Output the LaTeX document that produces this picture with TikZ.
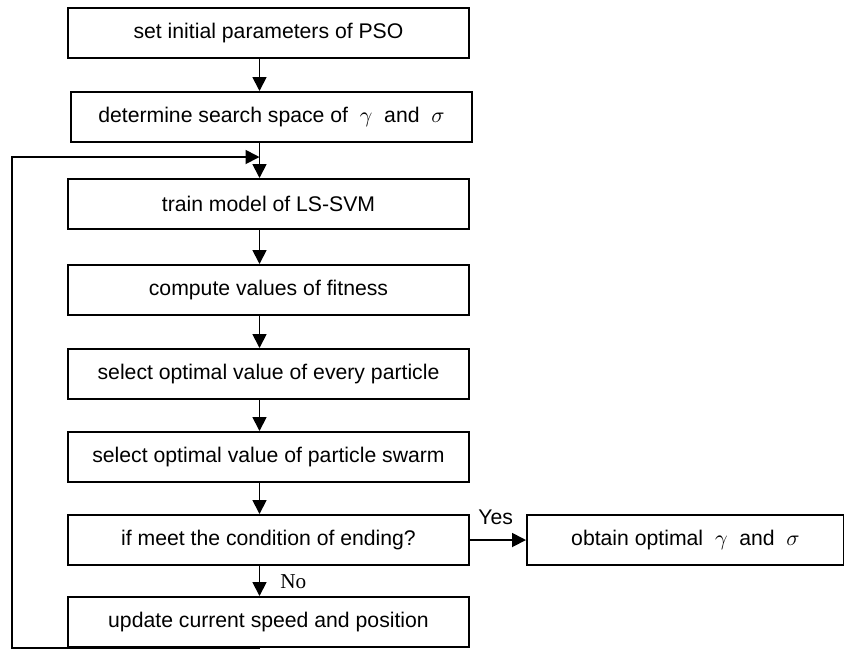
\documentclass[tikz,border=0pt]{standalone}
\usepackage{fontspec}
\setmainfont{Liberation Sans}
\newfontfamily\timesfont{Liberation Serif}
\usepackage{tikz}
\usetikzlibrary{arrows.meta,positioning}

\begin{document}
\begin{tikzpicture}[
    node distance=16pt,
    block/.style={draw, line width=1pt, minimum width=200.5pt, minimum height=25pt, inner sep=2pt, align=center, font=\fontsize{10.6}{12}\selectfont},
    arrow/.style={-{Triangle[length=7pt,width=7pt]}, line width=0.9pt},
    lbl/.style={anchor=base west, inner sep=0pt, font=\fontsize{10.6}{12}\selectfont}
]
    \useasboundingbox (0,0) rectangle (422pt,-325pt);

    % Inicio
    \node[block] (init) at (134.25pt,-16.5pt) {set initial parameters of PSO};
    \node[block, below=16pt of init, xshift=1.5pt] (space) {determine search space of\ \ $\gamma$\ \ and\ \ $\sigma$};

    % Bucle principal
    \node[block, below=17.5pt of space, xshift=-1.5pt] (train) {train model of LS-SVM};
    \node[block, below=17pt of train] (fitness) {compute values of fitness};
    \node[block, below=16pt of fitness] (pbest) {select optimal value of every particle};
    \node[block, below=15.5pt of pbest] (gbest) {select optimal value of particle swarm};
    \node[block, below=15.5pt of gbest] (cond) {if meet the condition of ending?};
    \node[block, below=15pt of cond] (update) {update current speed and position};

    % Salida
    \node[block, right=28pt of cond, minimum width=158.5pt] (result) {obtain optimal\ \ $\gamma$\ \ and\ \ $\sigma$};

    % Puntos del lazo
    \coordinate (loopbot) at (6pt,-324pt);
    \coordinate (looptop) at (6pt,-78.5pt);

    % Arrows
    \draw[arrow] ([xshift=-4.5pt]init.south) -- ([xshift=-4.5pt]init.south |- space.north);
    \draw[arrow] ([xshift=-4.5pt]init.south |- space.south) -- ([xshift=-4.5pt]train.north);
    \draw[arrow] ([xshift=-4.5pt]train.south) -- ([xshift=-4.5pt]fitness.north);
    \draw[arrow] ([xshift=-4.5pt]fitness.south) -- ([xshift=-4.5pt]pbest.north);
    \draw[arrow] ([xshift=-4.5pt]pbest.south) -- ([xshift=-4.5pt]gbest.north);
    \draw[arrow] ([xshift=-4.5pt]gbest.south) -- ([xshift=-4.5pt]cond.north);
    \draw[arrow] ([xshift=-4.5pt]cond.south) -- ([xshift=-4.5pt]update.north);
    \draw[arrow] (cond.east) -- (result.west);
    \draw[arrow] ([xshift=-4.5pt]update.south) |- (loopbot) |- ([xshift=-4.5pt]init.south |- looptop);

    % Etiquetas
    \node[lbl] (yes) at ([xshift=4pt,yshift=8pt]cond.east) {Yes};
    \node[lbl, font=\timesfont\fontsize{10.6}{12}\selectfont] (no) at ([xshift=5.75pt,yshift=-11pt]cond.south) {No};

\end{tikzpicture}
\end{document}
